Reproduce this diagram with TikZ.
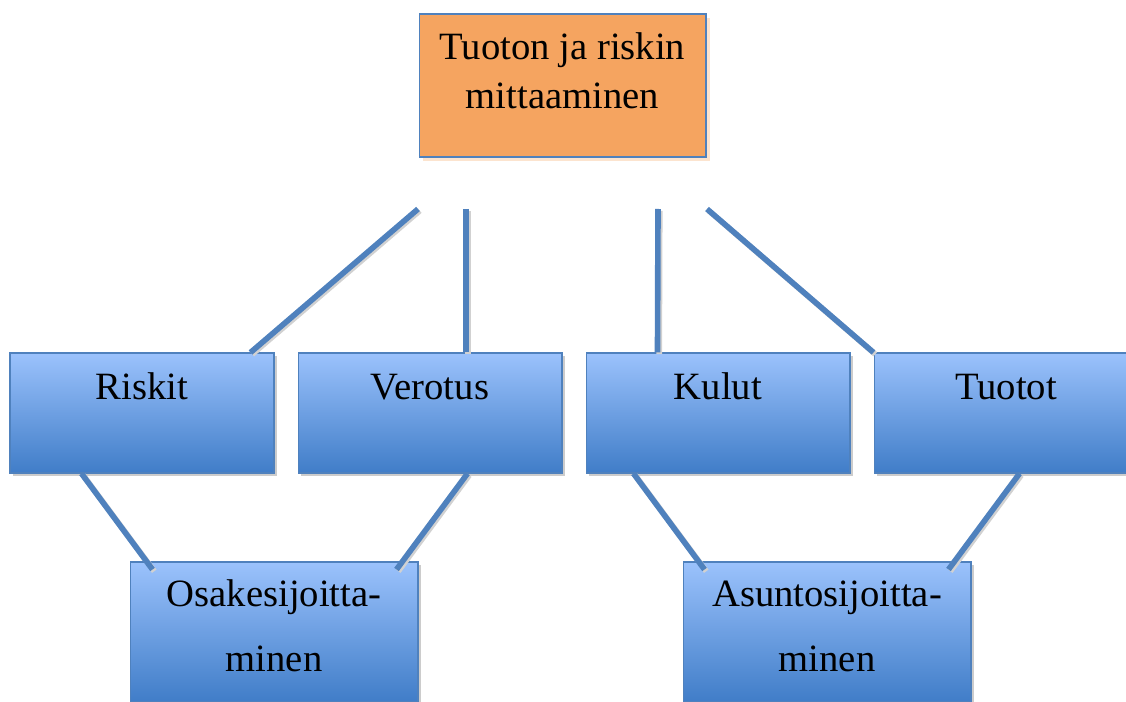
\documentclass[tikz,border=0pt]{standalone}
\usepackage{fontspec}
\setmainfont{Liberation Serif}
\usetikzlibrary{calc,shadows}
\definecolor{boxtop}{RGB}{155,194,252}
\definecolor{boxbot}{RGB}{64,125,200}
\definecolor{edgeblue}{RGB}{79,129,189}
\definecolor{linkblue}{RGB}{79,129,189}
\definecolor{headfill}{RGB}{245,164,96}
\begin{document}
\begin{tikzpicture}[x=0.02cm,y=-0.02cm,
	topicbox/.style={draw=edgeblue,semithick,inner sep=0pt,minimum width=5.28cm,minimum height=2.4cm,
		top color=boxtop,bottom color=boxbot,
		drop shadow={shadow xshift=0.06cm,shadow yshift=-0.06cm,fill=black!20,opacity=1}},
	headbox/.style={draw=edgeblue,semithick,inner sep=0pt,minimum width=5.74cm,minimum height=2.86cm,
		fill=headfill,
		drop shadow={shadow xshift=0.08cm,shadow yshift=-0.08cm,fill=headfill!30,opacity=1}},
	investbox/.style={topicbox,minimum width=5.76cm,minimum height=2.8cm},
	lbl/.style={inner sep=0pt,font=\fontsize{22}{27}\selectfont},
	link/.style={line width=3.2pt,draw=linkblue,
		preaction={draw=black!18,line width=3.2pt,transform canvas={xshift=1pt,yshift=-1pt}}}]
	\useasboundingbox (0,0) rectangle (1126,702) ;
	% boxes
	\node[headbox] (head) at (562.5,85.5) {} ;
	\node[topicbox] (riskit) at (142,413) {} ;
	\node[topicbox] (verotus) at (430,413) {} ;
	\node[topicbox] (kulut) at (718,413) {} ;
	\node[topicbox] (tuotot) at (1006,413) {} ;
	\node[investbox] (osake) at (274,632) {} ;
	\node[investbox] (asunto) at (827,632) {} ;
	% texts
	\node[lbl,align=center,font=\fontsize{22}{28}\selectfont] (headT) at (562.5,71) {Tuoton ja riskin\\mittaaminen} ;
	\node[lbl,anchor=base] (riskitT) at ($(riskit.north)+(0,47)$) {Riskit} ;
	\node[lbl,anchor=base] (verotusT) at ($(verotus.north)+(0,47)$) {Verotus} ;
	\node[lbl,anchor=base] (kulutT) at ($(kulut.north)+(0,47)$) {Kulut} ;
	\node[lbl,anchor=base] (tuototT) at ($(tuotot.north)+(0,47)$) {Tuotot} ;
	\node[lbl,align=center,font=\fontsize{22}{37}\selectfont] (osakeT) at (274,626) {Osakesijoitta-\\minen} ;
	\node[lbl,align=center,font=\fontsize{22}{37}\selectfont] (asuntoT) at (827,626) {Asuntosijoitta-\\minen} ;
	% free ends under the heading
	\coordinate (t1) at (418,209) ;
	\coordinate (t2) at (466,209) ;
	\coordinate (t3) at (658,209) ;
	\coordinate (t4) at (707,209) ;
	% connectors
	\draw[link] (t1)--($(riskit.north east)+(-24,0)$) ;
	\draw[link] (t2)--($(verotus.north)+(36,0)$) ;
	\draw[link] (t3)--($(kulut.north west)+(72,0)$) ;
	\draw[link] (t4)--(tuotot.north west) ;
	\draw[link] ($(riskit.south west)+(72,0)$)--($(osake.north west)+(23,8)$) ;
	\draw[link] ($(verotus.south east)+(-95,0)$)--($(osake.north east)+(-22,8)$) ;
	\draw[link] ($(kulut.south west)+(48,0)$)--($(asunto.north west)+(22,8)$) ;
	\draw[link] ($(tuotot.south west)+(146,0)$)--($(asunto.north east)+(-23,8)$) ;
\end{tikzpicture}
\end{document}
